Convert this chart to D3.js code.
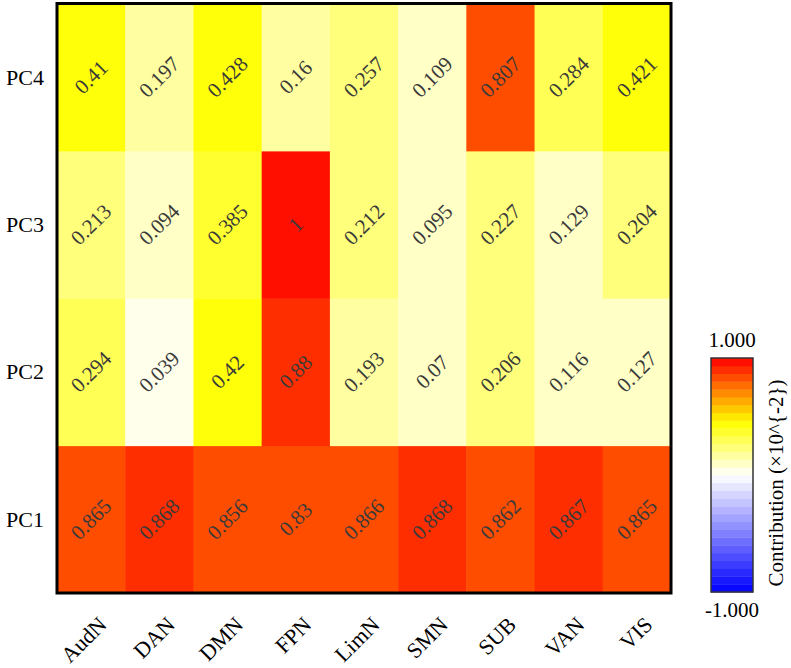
<!DOCTYPE html>
<html>
<head>
<meta charset="utf-8">
<script src="https://cdn.jsdelivr.net/npm/d3@7"></script>
<style>
  body { margin: 0; background: #fff; }
  text { font-family: "Liberation Serif", "Times New Roman", serif; }
</style>
</head>
<body>
<div id="plot"></div>
<script>
// networks along x, components along y (bottom to top)
const networks = ["AudN", "DAN", "DMN", "FPN", "LimN", "SMN", "SUB", "VAN", "VIS"];
const components = ["PC1", "PC2", "PC3", "PC4"];

const pc1 = [0.865, 0.868, 0.856, 0.83, 0.866, 0.868, 0.862, 0.867, 0.865];
const pc2 = [0.294, 0.039, 0.42, 0.88, 0.193, 0.07, 0.206, 0.116, 0.127];
const pc3 = [0.213, 0.094, 0.385, 1, 0.212, 0.095, 0.227, 0.129, 0.204];
const pc4 = [0.41, 0.197, 0.428, 0.16, 0.257, 0.109, 0.807, 0.284, 0.421];

const colorbarTicks = [-1, 1];

const rows = [pc1, pc2, pc3, pc4];
const cells = [];
rows.forEach((vals, r) => {
  vals.forEach((v, c) => cells.push({ pc: components[r], net: networks[c], value: v }));
});

const svgWidth = 791;
const svgHeight = 668;
const plot = { left: 57, top: 3.5, right: 671, bottom: 593 };

const svg = d3.select("#plot")
  .append("svg")
  .attr("width", svgWidth)
  .attr("height", svgHeight);

const x = d3.scaleBand().domain(networks).range([plot.left, plot.right]);
const y = d3.scaleBand().domain(components).range([plot.bottom, plot.top]);

// continuous map, then cut into 30 bands like the colour bar
const baseColor = d3.scaleLinear()
  .domain([-1, 0, 0.45, 1])
  .range(["#0000ff", "#ffffff", "#ffff00", "#ff0000"])
  .clamp(true);
const nBands = 30;
const bandColors = d3.range(nBands).map(i => baseColor(-1 + (i + 0.5) * 2 / nBands));
const color = d3.scaleQuantize().domain([-1, 1]).range(bandColors);

// cells
svg.append("g")
  .selectAll("rect")
  .data(cells)
  .enter()
  .append("rect")
  .attr("x", d => x(d.net))
  .attr("y", d => y(d.pc))
  .attr("width", x.bandwidth() + 0.5)
  .attr("height", y.bandwidth() + 0.5)
  .attr("fill", d => color(Math.min(d.value, 0.9999)));

// cell labels
svg.append("g")
  .selectAll("text")
  .data(cells)
  .enter()
  .append("text")
  .attr("transform", d => "translate(" + (x(d.net) + x.bandwidth() / 2) + "," + (y(d.pc) + y.bandwidth() / 2) + ") rotate(-45)")
  .attr("text-anchor", "middle")
  .attr("dominant-baseline", "central")
  .style("font-size", "21px")
  .style("fill", "#3a3a3a")
  .text(d => String(d.value));

// frame
svg.append("rect")
  .attr("x", plot.left)
  .attr("y", plot.top)
  .attr("width", plot.right - plot.left)
  .attr("height", plot.bottom - plot.top)
  .style("fill", "none")
  .style("stroke", "black")
  .style("stroke-width", 3);

// x labels
svg.append("g")
  .selectAll("text")
  .data(networks)
  .enter()
  .append("text")
  .attr("transform", d => "translate(" + (x(d) + x.bandwidth() / 2 + 17) + "," + (plot.bottom + 33) + ") rotate(-45)")
  .attr("text-anchor", "end")
  .style("font-size", "22px")
  .style("fill", "#000")
  .text(d => d);

// y labels
svg.append("g")
  .selectAll("text")
  .data(components)
  .enter()
  .append("text")
  .attr("x", plot.left - 13)
  .attr("y", d => y(d) + y.bandwidth() / 2)
  .attr("text-anchor", "end")
  .attr("dominant-baseline", "central")
  .style("font-size", "22px")
  .style("fill", "#000")
  .text(d => d);

// colour bar
const cb = { x: 711, width: 42, top: 358, bottom: 592 };
const cbScale = d3.scaleLinear().domain([-1, 1]).range([cb.bottom, cb.top]);
const bandEdges = d3.range(nBands).map(i => -1 + i * 2 / nBands);

svg.append("g")
  .selectAll("rect")
  .data(bandEdges)
  .enter()
  .append("rect")
  .attr("x", cb.x)
  .attr("y", d => cbScale(d + 2 / nBands))
  .attr("width", cb.width)
  .attr("height", (cb.bottom - cb.top) / nBands + 0.4)
  .attr("fill", d => color(d + 1 / nBands));

svg.append("rect")
  .attr("x", cb.x)
  .attr("y", cb.top)
  .attr("width", cb.width)
  .attr("height", cb.bottom - cb.top)
  .style("fill", "none")
  .style("stroke", "#333")
  .style("stroke-width", 1.5);

svg.append("g")
  .selectAll("text")
  .data(colorbarTicks)
  .enter()
  .append("text")
  .attr("x", cb.x + cb.width / 2)
  .attr("y", d => d > 0 ? cb.top - 11 : cb.bottom + 25)
  .attr("text-anchor", "middle")
  .style("font-size", "21px")
  .style("fill", "#000")
  .text(d => d3.format(".3f")(d).replace("\u2212", "-"));

svg.append("text")
  .attr("transform", "translate(783," + ((cb.top + cb.bottom) / 2 + 8) + ") rotate(-90)")
  .attr("text-anchor", "middle")
  .style("font-size", "21px")
  .style("fill", "#000")
  .text("Contribution (×10^{-2})");
</script>
</body>
</html>
